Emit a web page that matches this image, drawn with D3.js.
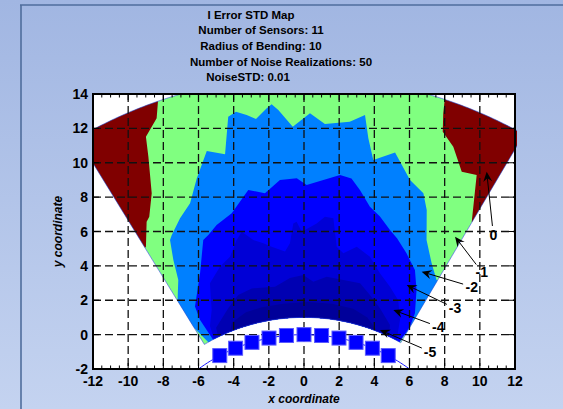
<!DOCTYPE html>
<html><head><meta charset="utf-8">
<script src="https://cdn.jsdelivr.net/npm/d3@7"></script>
<style>body{margin:0;overflow:hidden;background:#fff}svg{display:block;font-family:"Liberation Sans",Arial,sans-serif}</style>
</head><body>
<svg id="c" width="563" height="409"></svg>
<script>
// ---------------- data ----------------
const titleLines = ["I Error STD Map", "Number of Sensors: 11", "Radius of Bending: 10", "Number of Noise Realizations: 50", "NoiseSTD: 0.01"];
const xTicks = [-12, -10, -8, -6, -4, -2, 0, 2, 4, 6, 8, 10, 12];
const yTicks = [-2, 0, 2, 4, 6, 8, 10, 12, 14];
const xLabel = "x coordinate";
const yLabel = "y coordinate";

// sensor array (bent on radius 10)
const sensorX = [-4.79, -3.89, -2.96, -1.99, -1.00, 0.00, 1.00, 1.99, 2.96, 3.89, 4.79];
const sensorY = [-1.22, -0.79, -0.45, -0.20, -0.05, 0.00, -0.05, -0.20, -0.45, -0.79, -1.22];
const bendRadius = 10;
const bendCenter = [0, -10];

// evaluation domain (annular sector around bend center)
const domainInnerR = 11, domainOuterR = 25;
const domainAngles = [-31, 30]; // degrees from vertical

// contour level bands (region below each level), in data coordinates
const levels = [0, -1, -2, -3, -4, -5];
const bandColors = ["#80ff80", "#0080ff", "#0000ff", "#0000d6", "#0000b2", "#00009a"];
const maroon = "#800000";

const above0Left = [[-8.29,15],[-8.29,13.75],[-8.38,12.59],[-8.99,11.52],[-8.85,10.35],[-8.66,8.22],[-8.8,6.86],[-8.95,6.57],[-8.99,5.12],[-9.6,4.4],[-15,4],[-15,16]];
const above0Right = [[8.02,16],[8.02,13.84],[7.92,12.88],[7.89,11.81],[8.49,10.93],[8.97,9.48],[9.82,9.29],[9.54,6.57],[10.2,5.8],[15,6],[15,16]];
const belowM1 = [[-5,-3],[-5.44,-0.44],[-6.23,0.37],[-7.5,1.3],[-7.2,1.7],[-7.15,3.18],[-7.43,4.34],[-7.62,5.5],[-7.52,5.8],[-7.05,6.77],[-6.48,7.64],[-6.1,9.09],[-5.53,10.68],[-4.49,10.5],[-4.31,12.68],[-3.87,12.97],[-3.26,12.78],[-2.73,12.55],[-2.12,13.17],[-1.84,13.4],[-1.46,13.07],[-0.64,12.1],[0.34,12.88],[1.19,12.25],[2.6,12.39],[3.47,12.78],[3.66,11.42],[3.94,10.16],[5.18,10.59],[6.03,9.0],[6.79,8.22],[6.98,7.25],[6.97,5.5],[7.26,4.15],[7.54,3.18],[8.6,2.4],[6.6,0.45],[5.25,-0.3],[5,-3]];
const belowM2 = [[-5,-3],[-5.16,-0.31],[-5.91,0.85],[-6.2,1.63],[-5.91,3.58],[-5.73,5.5],[-5.44,5.8],[-4.97,6.38],[-4.11,7.06],[-3.17,8.42],[-2.22,8.22],[-1.37,9.0],[-0.41,9.1],[0.15,8.71],[1.1,9.0],[2.05,9.29],[2.7,9.09],[3.18,8.42],[3.75,7.44],[4.32,6.87],[4.89,6.09],[5.3,5.6],[5.83,4.73],[6.31,3.76],[6.4,2.6],[6.31,1.24],[6.03,0.47],[5.4,-0.5],[5,-3]];
const belowM3 = [[-5,-3],[-5.1,-0.3],[-5.35,0.5],[-5.25,1.43],[-5.35,2.99],[-4.78,3.95],[-4.21,4.53],[-3.83,5.5],[-3.54,5.99],[-2.88,5.5],[-2.31,5.31],[-1.84,5.12],[-1.08,4.83],[-0.8,5.31],[-0.61,6.47],[-0.42,6.57],[-0.13,5.99],[0.72,6.47],[1.19,6.86],[1.67,6.77],[1.86,5.12],[2.24,4.73],[3.0,5.12],[3.75,4.53],[4.32,3.57],[4.89,2.79],[5.36,2.0],[5.46,0.85],[5.27,-0.3],[5,-3]];
const belowM4 = [[-4.5,-3],[-4.8,-0.5],[-5.0,0.4],[-4.31,1.53],[-3.74,2.31],[-2.97,2.69],[-1.65,2.79],[-0.8,3.3],[-0.04,3.47],[0.53,3.08],[1.29,3.37],[2.24,3.18],[3.19,2.99],[3.75,2.31],[4.32,1.53],[4.89,0.56],[4.8,-0.5],[4.5,-3]];
const belowM5 = [[-4,-3],[-4.3,-0.3],[-4.1,0.7],[-3.3,1.3],[-2.4,1.6],[-1.2,1.8],[0.2,1.9],[1.6,1.8],[2.8,1.5],[3.6,1.0],[4.1,0.3],[4.0,-3]];

// contour label annotations
const labelText = ["0", "-1", "-2", "-3", "-4", "-5"];
const labelHeadX = [10.39, 8.59, 6.69, 5.84, 5.08, 4.32];
const labelHeadY = [9.48, 5.70, 3.66, 2.89, 1.43, 0.27];
const labelPosX = [10.77, 10.11, 9.54, 8.59, 7.64, 7.17];
const labelPosY = [5.80, 3.66, 2.79, 1.53, 0.46, -0.99];

// ---------------- drawing ----------------
const svg = d3.select("#c");
const W = 563, H = 409;
const L = 93, R = 515, T = 94, B = 369;
const x = d3.scaleLinear().domain([-12, 12]).range([L, R]);
const y = d3.scaleLinear().domain([-2, 14]).range([B, T]);

const defs = svg.append("defs");
const grad = defs.append("linearGradient").attr("id", "bg").attr("x1", 0).attr("y1", 0).attr("x2", 0).attr("y2", 1);
grad.append("stop").attr("offset", "0%").attr("stop-color", "#a1b6e2");
grad.append("stop").attr("offset", "100%").attr("stop-color", "#c4d3f0");
svg.append("rect").attr("width", W).attr("height", H).attr("fill", "url(#bg)");
// panel frame
svg.append("line").attr("x1", 21).attr("x2", 21).attr("y1", 5).attr("y2", H).attr("stroke", "#4f6d9c").attr("stroke-width", 1.6);
svg.append("line").attr("x1", 20).attr("x2", W).attr("y1", 5).attr("y2", 5).attr("stroke", "#4f6d9c").attr("stroke-width", 1.6);

// axes background
svg.append("rect").attr("x", L).attr("y", T).attr("width", R - L).attr("height", B - T).attr("fill", "#fff");

// sector path
const deg = Math.PI / 180;
function polar(r, a) { return [bendCenter[0] + r * Math.sin(a * deg), bendCenter[1] + r * Math.cos(a * deg)]; }
const sectorPts = [];
for (let a = domainAngles[0]; a <= domainAngles[1] + 1e-9; a += 0.5) sectorPts.push(polar(domainOuterR, a));
for (let a = domainAngles[1]; a >= domainAngles[0] - 1e-9; a -= 0.5) sectorPts.push(polar(domainInnerR, a));
const line = d3.line().x(d => x(d[0])).y(d => y(d[1]));
const sectorPath = line(sectorPts) + "Z";

defs.append("clipPath").attr("id", "axclip").append("rect").attr("x", L).attr("y", T).attr("width", R - L + 2).attr("height", B - T);
defs.append("clipPath").attr("id", "secclip").append("path").attr("d", sectorPath);
defs.append("clipPath").attr("id", "axclip2").append("rect").attr("x", L).attr("y", T).attr("width", R - L).attr("height", B - T);

const gAx = svg.append("g").attr("clip-path", "url(#axclip)");
const gSec = gAx.append("g").attr("clip-path", "url(#secclip)");
gSec.append("path").attr("d", sectorPath).attr("fill", bandColors[0]);
[above0Left, above0Right].forEach(p => gSec.append("path").attr("d", line(p) + "Z").attr("fill", maroon));
[belowM1, belowM2, belowM3, belowM4, belowM5].forEach((p, i) =>
  gSec.append("path").attr("d", line(p) + "Z").attr("fill", bandColors[i + 1]));
gAx.append("path").attr("d", sectorPath).attr("fill", "none").attr("stroke", "#2a48d8").attr("stroke-width", 0.6);

// grid
const gGrid = svg.append("g").attr("clip-path", "url(#axclip2)");
xTicks.filter(t => t > -12 && t < 12).forEach(t =>
  gGrid.append("line").attr("x1", x(t)).attr("x2", x(t)).attr("y1", T).attr("y2", B)
    .attr("stroke", "#111").attr("stroke-width", 1.3).attr("stroke-dasharray", "8,4"));
yTicks.filter(t => t > -2 && t < 14).forEach(t =>
  gGrid.append("line").attr("x1", L).attr("x2", R).attr("y1", y(t)).attr("y2", y(t))
    .attr("stroke", "#111").attr("stroke-width", 1.3).attr("stroke-dasharray", "8,4"));

// sensor curve and sensors
const gS = svg.append("g").attr("clip-path", "url(#axclip2)");
const arcPts = d3.range(-0.7, 0.7001, 0.02).map(a => [bendCenter[0] + bendRadius * Math.sin(a), bendCenter[1] + bendRadius * Math.cos(a)]);
gS.append("path").attr("d", line(arcPts)).attr("fill", "none").attr("stroke", "#1a1aff").attr("stroke-width", 1);
sensorX.forEach((sx, i) => {
  gS.append("rect").attr("x", x(sx) - 7).attr("y", y(sensorY[i]) - 7).attr("width", 14).attr("height", 14)
    .attr("fill", "#0000ff").attr("stroke", "#5a5aff").attr("stroke-width", 1);
});

// axes box and ticks
const gA = svg.append("g");
gA.append("rect").attr("x", L).attr("y", T).attr("width", R - L).attr("height", B - T).attr("fill", "none").attr("stroke", "#000").attr("stroke-width", 2);
const minor = d3.range(-12, 12.001, 0.5);
minor.forEach(t => {
  const major = Math.abs(t % 2) < 1e-9;
  const len = major ? 6 : 3.5;
  gA.append("line").attr("x1", x(t)).attr("x2", x(t)).attr("y1", B).attr("y2", B - len).attr("stroke", "#000").attr("stroke-width", 1);
  gA.append("line").attr("x1", x(t)).attr("x2", x(t)).attr("y1", T).attr("y2", T + len).attr("stroke", "#000").attr("stroke-width", 1);
});
yTicks.forEach(t => {
  gA.append("line").attr("x1", L).attr("x2", L + 6).attr("y1", y(t)).attr("y2", y(t)).attr("stroke", "#000").attr("stroke-width", 1);
  gA.append("line").attr("x1", R).attr("x2", R - 6).attr("y1", y(t)).attr("y2", y(t)).attr("stroke", "#000").attr("stroke-width", 1);
});
xTicks.forEach(t => gA.append("text").attr("x", x(t)).attr("y", 386).attr("text-anchor", "middle")
  .attr("font-size", 14).attr("font-weight", "bold").attr("fill", "#000").text(t));
yTicks.forEach(t => gA.append("text").attr("x", 88).attr("y", y(t) + 5).attr("text-anchor", "end")
  .attr("font-size", 14).attr("font-weight", "bold").attr("fill", "#000").text(t));

svg.append("text").attr("x", (L + R) / 2).attr("y", 403).attr("text-anchor", "middle")
  .attr("font-size", 12).attr("font-weight", "bold").attr("font-style", "italic").text(xLabel);
svg.append("text").attr("transform", `translate(62,${(T + B) / 2}) rotate(-90)`).attr("text-anchor", "middle")
  .attr("font-size", 12).attr("font-weight", "bold").attr("font-style", "italic").text(yLabel);

// title
const titleX = [251, 261, 261, 281, 248];
const titleY = [19, 34, 49.5, 65.5, 81];
titleLines.forEach((t, i) => svg.append("text").attr("x", titleX[i]).attr("y", titleY[i]).attr("text-anchor", "middle")
  .attr("font-size", 11.5).attr("font-weight", "bold").attr("fill", "#000").text(t));

// contour labels with arrows
labelText.forEach((t, i) => {
  const hx = x(labelHeadX[i]), hy = y(labelHeadY[i]);
  const lx = x(labelPosX[i]), ly = y(labelPosY[i]);
  const dx = hx - lx, dy = hy - ly, d = Math.hypot(dx, dy);
  const ux = dx / d, uy = dy / d;
  const tx = lx + ux * 9, ty = ly + uy * 9;
  gA.append("line").attr("x1", tx).attr("y1", ty).attr("x2", hx - ux * 6).attr("y2", hy - uy * 6).attr("stroke", "#000").attr("stroke-width", 1);
  const px = -uy, py = ux;
  const back = 10, half = 4.5, notch = 6.5;
  const p = [[hx, hy], [hx - ux * back + px * half, hy - uy * back + py * half], [hx - ux * notch, hy - uy * notch], [hx - ux * back - px * half, hy - uy * back - py * half]];
  gA.append("path").attr("d", "M" + p.map(q => q.join(",")).join("L") + "Z").attr("fill", "#000");
  gA.append("text").attr("x", lx).attr("y", ly + 5).attr("text-anchor", "middle").attr("font-size", 14).attr("font-weight", "bold").attr("fill", "#000").text(t);
});
</script>
</body></html>
